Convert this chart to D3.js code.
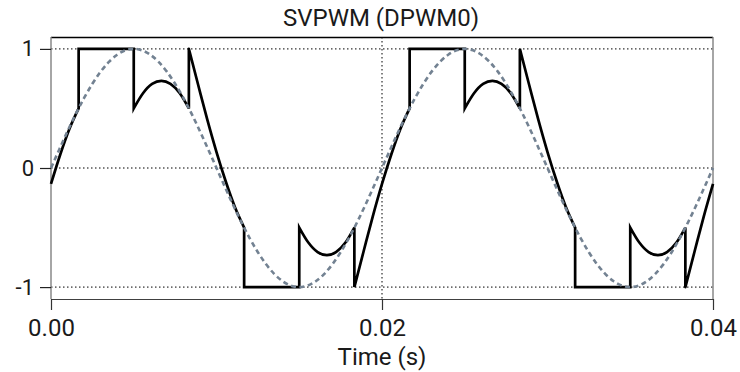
<!DOCTYPE html>
<html>
<head>
<meta charset="utf-8">
<script src="https://cdn.jsdelivr.net/npm/d3@7"></script>
<style>
  html, body { margin: 0; padding: 0; background: #fff; }
  svg { display: block; }
  text { font-family: Roboto, "DejaVu Sans", sans-serif; fill: #1a1a1a; }
</style>
</head>
<body>
<svg id="chart" width="740" height="372"></svg>
<script>
// ---------- data ----------
const title = "SVPWM (DPWM0)";
const xLabel = "Time (s)";
const xTicks = [0, 0.02, 0.04];
const xTickLabels = ["0.00", "0.02", "0.04"];
const yTicks = [-1, 0, 1];
const yTickLabels = ["-1", "0", "1"];

// reference sine (dashed), sampled every 0.0005 s
const sineTime = [
  0.0000,0.0005,0.0010,0.0015,0.0020,0.0025,0.0030,0.0035,0.0040,0.0045,
  0.0050,0.0055,0.0060,0.0065,0.0070,0.0075,0.0080,0.0085,0.0090,0.0095,
  0.0100,0.0105,0.0110,0.0115,0.0120,0.0125,0.0130,0.0135,0.0140,0.0145,
  0.0150,0.0155,0.0160,0.0165,0.0170,0.0175,0.0180,0.0185,0.0190,0.0195,
  0.0200,0.0205,0.0210,0.0215,0.0220,0.0225,0.0230,0.0235,0.0240,0.0245,
  0.0250,0.0255,0.0260,0.0265,0.0270,0.0275,0.0280,0.0285,0.0290,0.0295,
  0.0300,0.0305,0.0310,0.0315,0.0320,0.0325,0.0330,0.0335,0.0340,0.0345,
  0.0350,0.0355,0.0360,0.0365,0.0370,0.0375,0.0380,0.0385,0.0390,0.0395,
  0.0400
];
const sineValue = [
  0.000, 0.156, 0.309, 0.454, 0.588, 0.707, 0.809, 0.891, 0.951, 0.988,
  1.000, 0.988, 0.951, 0.891, 0.809, 0.707, 0.588, 0.454, 0.309, 0.156,
  0.000,-0.156,-0.309,-0.454,-0.588,-0.707,-0.809,-0.891,-0.951,-0.988,
 -1.000,-0.988,-0.951,-0.891,-0.809,-0.707,-0.588,-0.454,-0.309,-0.156,
  0.000, 0.156, 0.309, 0.454, 0.588, 0.707, 0.809, 0.891, 0.951, 0.988,
  1.000, 0.988, 0.951, 0.891, 0.809, 0.707, 0.588, 0.454, 0.309, 0.156,
  0.000,-0.156,-0.309,-0.454,-0.588,-0.707,-0.809,-0.891,-0.951,-0.988,
 -1.000,-0.988,-0.951,-0.891,-0.809,-0.707,-0.588,-0.454,-0.309,-0.156,
  0.000
];

// DPWM0 modulating signal (solid); repeated times mark vertical jumps
const pwmTime = [
  0.00000,0.00056,0.00111,0.00167,0.00167,0.00500,0.00500,0.00556,0.00611,0.00667,
  0.00722,0.00778,0.00833,0.00833,0.00889,0.00944,0.01000,0.01056,0.01111,0.01167,
  0.01167,0.01500,0.01500,0.01556,0.01611,0.01667,0.01722,0.01778,0.01833,0.01833,
  0.01889,0.01944,0.02000,0.02056,0.02111,0.02167,0.02167,0.02500,0.02500,0.02556,
  0.02611,0.02667,0.02722,0.02778,0.02833,0.02833,0.02889,0.02944,0.03000,0.03056,
  0.03111,0.03167,0.03167,0.03500,0.03500,0.03556,0.03611,0.03667,0.03722,0.03778,
  0.03833,0.03833,0.03889,0.03944,0.04000
];
const pwmValue = [
 -0.134, 0.113, 0.327, 0.500, 1.000, 1.000, 0.500, 0.628, 0.706, 0.732,
  0.706, 0.628, 0.500, 1.000, 0.699, 0.408, 0.134,-0.113,-0.327,-0.500,
 -1.000,-1.000,-0.500,-0.628,-0.706,-0.732,-0.706,-0.628,-0.500,-1.000,
 -0.699,-0.408,-0.134, 0.113, 0.327, 0.500, 1.000, 1.000, 0.500, 0.628,
  0.706, 0.732, 0.706, 0.628, 0.500, 1.000, 0.699, 0.408, 0.134,-0.113,
 -0.327,-0.500,-1.000,-1.000,-0.500,-0.628,-0.706,-0.732,-0.706,-0.628,
 -0.500,-1.000,-0.699,-0.408,-0.134
];

// ---------- layout ----------
const svg = d3.select("#chart");
const pL = 51, pR = 713, pT = 37, pB = 299;

const x = d3.scaleLinear().domain([0, 0.04]).range([pL, pR]);
const y = d3.scaleLinear().domain([-1.1, 1.1]).range([pB, pT]);

// title
svg.append("text")
  .attr("x", 381).attr("y", 26)
  .attr("text-anchor", "middle")
  .style("font-size", "24px")
  .text(title);

// grid (dotted)
const grid = svg.append("g");
yTicks.forEach(v => {
  grid.append("line")
    .attr("x1", pL).attr("x2", pR)
    .attr("y1", y(v)).attr("y2", y(v))
    .attr("stroke", "#000").attr("stroke-width", 1)
    .attr("stroke-dasharray", "1.5,2.5");
});
grid.append("line")
  .attr("x1", x(0.02)).attr("x2", x(0.02))
  .attr("y1", pT).attr("y2", pB)
  .attr("stroke", "#000").attr("stroke-width", 1)
  .attr("stroke-dasharray", "1.5,2.5");

// borders
svg.append("line").attr("x1", pL).attr("x2", pR).attr("y1", pT + 0.5).attr("y2", pT + 0.5)
  .attr("stroke", "#000").attr("stroke-width", 1.4);
svg.append("line").attr("x1", pR).attr("x2", pR).attr("y1", pT).attr("y2", pB)
  .attr("stroke", "#808080").attr("stroke-width", 1.4);
svg.append("line").attr("x1", pL).attr("x2", pL).attr("y1", pT).attr("y2", pB)
  .attr("stroke", "#808080").attr("stroke-width", 1.4);
svg.append("line").attr("x1", pL).attr("x2", pR).attr("y1", pB + 0.5).attr("y2", pB + 0.5)
  .attr("stroke", "#404040").attr("stroke-width", 1.2);

// axes
const xAxis = d3.axisBottom(x).tickValues(xTicks).tickSize(11).tickPadding(8)
  .tickFormat((d, i) => xTickLabels[i]);
const gx = svg.append("g").attr("transform", `translate(0,${pB})`).call(xAxis);
gx.select(".domain").remove();
gx.selectAll(".tick line").attr("stroke", "#333").attr("stroke-width", 1.2);
gx.selectAll(".tick text").style("font-size", "24px").attr("fill", "#1a1a1a")
  .attr("font-family", "Roboto, 'DejaVu Sans', sans-serif").attr("dy", "0.71em").attr("y", 20);

const yAxis = d3.axisLeft(y).tickValues(yTicks).tickSize(11).tickPadding(6)
  .tickFormat((d, i) => yTickLabels[i]);
const gy = svg.append("g").attr("transform", `translate(${pL},0)`).call(yAxis);
gy.select(".domain").remove();
gy.selectAll(".tick line").attr("stroke", "#222").attr("stroke-width", 1.2);
gy.selectAll(".tick text").style("font-size", "22px").attr("fill", "#1a1a1a")
  .attr("font-family", "Roboto, 'DejaVu Sans', sans-serif");

// x label
svg.append("text")
  .attr("x", 382).attr("y", 365)
  .attr("text-anchor", "middle")
  .style("font-size", "24px")
  .text(xLabel);

// ---------- series ----------
const plot = svg.append("g");

// solid DPWM0 signal: split into continuous runs at vertical jumps
const pwmPts = pwmTime.map((t, i) => [t, pwmValue[i]]);
const runs = [];
let cur = [pwmPts[0]];
for (let i = 1; i < pwmPts.length; i++) {
  if (pwmPts[i][0] === pwmPts[i - 1][0]) {
    runs.push(cur);
    cur = [pwmPts[i]];
  } else {
    cur.push(pwmPts[i]);
  }
}
runs.push(cur);
const smooth = d3.line().x(d => x(d[0])).y(d => y(d[1])).curve(d3.curveMonotoneX);
let dStr = runs.map(r => r.length > 1 ? smooth(r) : `M${x(r[0][0])},${y(r[0][1])}`).join("");
let firstM = true;
dStr = dStr.replace(/M/g, () => { if (firstM) { firstM = false; return "M"; } return "L"; });

plot.append("path")
  .attr("d", dStr)
  .attr("fill", "none")
  .attr("stroke", "#000")
  .attr("stroke-width", 2.7)
  .attr("stroke-linejoin", "miter");

// dashed sine
const sinePts = sineTime.map((t, i) => [t, sineValue[i]]);
plot.append("path")
  .attr("d", d3.line().x(d => x(d[0])).y(d => y(d[1])).curve(d3.curveMonotoneX)(sinePts))
  .attr("fill", "none")
  .attr("stroke", "#738292")
  .attr("stroke-width", 2.6)
  .attr("stroke-dasharray", "5,3.5");
</script>
</body>
</html>
